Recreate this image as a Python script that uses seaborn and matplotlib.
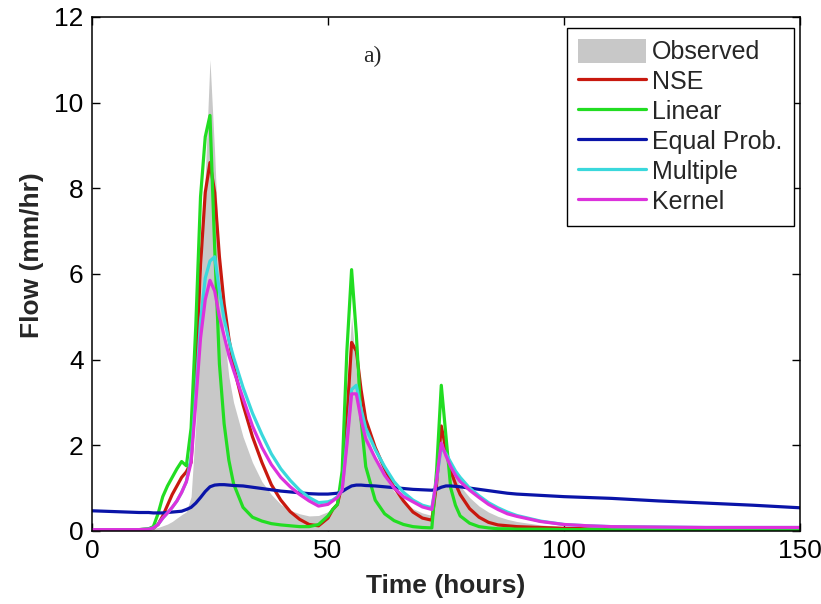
import matplotlib
matplotlib.use("Agg")
import matplotlib.pyplot as plt
from matplotlib.patches import Patch
from matplotlib.lines import Line2D
import numpy as np
import pandas as pd
import seaborn as sns

# Time axis (hours), finer around the three storm peaks
time_h = [0, 5, 10, 12, 13, 14, 15, 16, 17, 18, 19, 20, 21, 22, 23, 24, 25, 26, 27, 28, 29, 30,
          32, 34, 36, 38, 40, 42, 44, 46, 48, 50,
          51, 52, 53, 54, 55, 56, 57, 58,
          60, 62, 64, 66, 68, 70, 72,
          73, 74, 75, 76, 77, 78,
          80, 82, 84, 86, 88, 90,
          95, 100, 105, 110, 120, 130, 140, 150]

observed = [0.02, 0.02, 0.03, 0.05, 0.06, 0.08, 0.12, 0.16, 0.22, 0.30, 0.38, 0.45, 0.80, 2.5, 5.5, 8.3, 11.0, 8.8, 6.2, 4.6, 3.6, 3.0,
            2.2, 1.6, 1.15, 0.85, 0.62, 0.48, 0.40, 0.35, 0.36, 0.45,
            0.55, 0.72, 1.6, 3.3, 5.0, 3.7, 2.9, 2.35,
            1.7, 1.25, 0.92, 0.68, 0.52, 0.42, 0.36,
            1.3, 2.3, 1.9, 1.55, 1.28, 1.05,
            0.78, 0.58, 0.44, 0.34, 0.27, 0.22,
            0.14, 0.10, 0.08, 0.07, 0.06, 0.05, 0.05, 0.04]

nse = [0.03, 0.03, 0.03, 0.04, 0.06, 0.15, 0.35, 0.60, 0.85, 1.05, 1.25, 1.38, 1.6, 3.6, 6.2, 7.9, 8.6, 7.9, 6.4, 5.3, 4.5, 3.85,
       2.95, 2.2, 1.6, 1.08, 0.72, 0.45, 0.27, 0.15, 0.12, 0.30,
       0.50, 0.62, 1.1, 2.6, 4.4, 4.2, 3.3, 2.6,
       1.95, 1.45, 1.02, 0.70, 0.44, 0.30, 0.25,
       1.1, 2.45, 1.9, 1.4, 1.1, 0.85,
       0.52, 0.32, 0.20, 0.14, 0.12, 0.10,
       0.08, 0.06, 0.05, 0.04, 0.04, 0.03, 0.03, 0.03]

linear = [0.03, 0.03, 0.03, 0.05, 0.10, 0.40, 0.80, 1.05, 1.25, 1.45, 1.62, 1.52, 2.4, 4.8, 7.8, 9.2, 9.7, 6.6, 3.9, 2.5, 1.65, 1.1,
          0.55, 0.32, 0.23, 0.17, 0.14, 0.12, 0.10, 0.10, 0.15, 0.35,
          0.50, 0.62, 1.4, 4.2, 6.1, 4.6, 2.6, 1.5,
          0.72, 0.40, 0.24, 0.15, 0.10, 0.08, 0.07,
          1.4, 3.4, 2.2, 1.0, 0.60, 0.35,
          0.18, 0.10, 0.07, 0.05, 0.05, 0.04,
          0.04, 0.03, 0.03, 0.03, 0.03, 0.03, 0.03, 0.03]

equal_prob = [0.47, 0.45, 0.43, 0.43, 0.42, 0.42, 0.42, 0.43, 0.44, 0.45, 0.46, 0.50, 0.55, 0.65, 0.78, 0.92, 1.03, 1.07, 1.08, 1.08, 1.07, 1.06,
              1.05, 1.02, 0.99, 0.96, 0.93, 0.91, 0.89, 0.87, 0.86, 0.86,
              0.87, 0.88, 0.92, 0.99, 1.05, 1.07, 1.07, 1.06,
              1.05, 1.03, 1.01, 0.99, 0.97, 0.96, 0.95,
              0.97, 1.02, 1.05, 1.05, 1.04, 1.03,
              1.00, 0.97, 0.94, 0.91, 0.88, 0.86,
              0.83, 0.80, 0.78, 0.76, 0.70, 0.65, 0.60, 0.54]

multiple = [0.03, 0.03, 0.03, 0.04, 0.07, 0.15, 0.30, 0.42, 0.55, 0.70, 0.90, 1.15, 1.7, 3.2, 4.9, 5.9, 6.3, 6.4, 5.6, 4.95, 4.45, 4.05,
            3.35, 2.75, 2.25, 1.8, 1.45, 1.18, 0.95, 0.78, 0.66, 0.68,
            0.72, 0.80, 0.98, 2.1, 3.3, 3.4, 2.85, 2.4,
            1.9, 1.5, 1.15, 0.90, 0.72, 0.60, 0.54,
            1.2, 1.95, 1.8, 1.6, 1.4, 1.25,
            1.0, 0.82, 0.66, 0.54, 0.44, 0.36,
            0.23, 0.15, 0.12, 0.10, 0.09, 0.08, 0.08, 0.08]

kernel = [0.03, 0.03, 0.03, 0.04, 0.07, 0.15, 0.30, 0.42, 0.55, 0.70, 0.90, 1.15, 1.6, 3.0, 4.5, 5.4, 5.85, 5.6, 5.0, 4.55, 4.1, 3.75,
          3.1, 2.45, 1.95, 1.55, 1.25, 1.03, 0.85, 0.70, 0.58, 0.62,
          0.70, 0.78, 0.95, 2.0, 3.2, 3.2, 2.6, 2.15,
          1.7, 1.3, 1.0, 0.80, 0.68, 0.56, 0.50,
          1.2, 2.05, 1.75, 1.5, 1.3, 1.15,
          0.95, 0.78, 0.62, 0.50, 0.40, 0.34,
          0.22, 0.15, 0.12, 0.10, 0.09, 0.08, 0.08, 0.08]

series_names = ["NSE", "Linear", "Equal Prob.", "Multiple", "Kernel"]
series_values = [nse, linear, equal_prob, multiple, kernel]
series_colors = ["#c8190f", "#22dd22", "#0a14a8", "#3ad8dc", "#dc32dc"]
observed_color = "#c8c8c8"

x_ticks = [0, 50, 100, 150]
y_ticks = [0, 2, 4, 6, 8, 10, 12]

sns.set_style("ticks")
plt.rcParams["font.family"] = ["Liberation Sans", "DejaVu Sans"]

long_df = pd.concat(
    [pd.DataFrame({"Time": time_h, "Flow": vals, "Model": name})
     for name, vals in zip(series_names, series_values)],
    ignore_index=True,
)

fig = plt.figure(figsize=(8.21, 6.04), dpi=100)
ax = fig.add_axes([0.112, 0.121, 0.8625, 0.851])

ax.fill_between(time_h, observed, 0, color=observed_color, linewidth=0, zorder=1)

sns.lineplot(data=long_df, x="Time", y="Flow", hue="Model", hue_order=series_names,
             palette=dict(zip(series_names, series_colors)), linewidth=2.3,
             sort=False, estimator=None, legend=False, ax=ax, zorder=2)

ax.set_xlim(0, 150)
ax.set_ylim(0, 12)
ax.set_xticks(x_ticks)
ax.set_yticks(y_ticks)
ax.tick_params(direction="in", top=True, right=True, length=6, width=1,
               labelsize=19, pad=6, colors="black")
for s in ax.spines.values():
    s.set_visible(True)
    s.set_linewidth(1.1)
    s.set_color("black")

ax.set_xlabel("Time (hours)", fontsize=19, fontweight="bold", labelpad=8)
ax.set_ylabel("Flow (mm/hr)", fontsize=19, fontweight="bold")
ax.yaxis.set_label_coords(-0.068, 0.537)

ax.text(59.3, 11.07, "a)", family=["Liberation Serif", "DejaVu Serif"], fontsize=17,
        ha="center", va="center")

handles = [Patch(facecolor=observed_color, edgecolor="none", label="Observed")]
handles += [Line2D([0], [0], color=c, lw=2.3, label=n) for n, c in zip(series_names, series_colors)]
leg = ax.legend(handles=handles, loc="upper right", bbox_to_anchor=(0.991, 0.979),
                fontsize=18, frameon=True, fancybox=False, shadow=False,
                handlelength=2.7, handleheight=1.1, handletextpad=0.25,
                labelspacing=0.18, borderpad=0.45, borderaxespad=0.0)
leg.get_frame().set_edgecolor("black")
leg.get_frame().set_linewidth(1.0)
leg.get_frame().set_alpha(1.0)

fig.savefig("out.png", dpi=100, facecolor="white")
